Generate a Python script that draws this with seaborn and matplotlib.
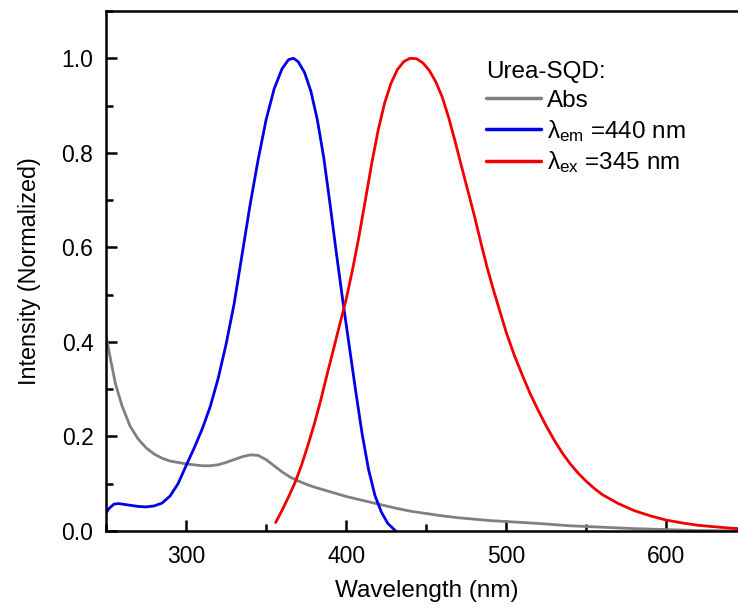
import numpy as np
import pandas as pd
import matplotlib
matplotlib.use("Agg")
import matplotlib.pyplot as plt
from matplotlib.ticker import MultipleLocator, FormatStrFormatter
import seaborn as sns

# ---- data ----
abs_wl = [250, 253, 256, 260, 265, 270, 275, 280, 285, 290, 295, 300, 305, 310, 315, 320,
          325, 330, 335, 340, 345, 350, 355, 360, 365, 370, 375, 380, 390, 400, 410, 420,
          430, 440, 450, 460, 470, 480, 490, 500, 520, 540, 560, 580, 600, 620, 651]
abs_val = [0.414, 0.36, 0.31, 0.265, 0.222, 0.195, 0.176, 0.163, 0.154, 0.148, 0.145,
           0.142, 0.14, 0.138, 0.138, 0.14, 0.145, 0.151, 0.157, 0.161, 0.16, 0.151, 0.138,
           0.125, 0.114, 0.106, 0.099, 0.093, 0.083, 0.073, 0.065, 0.057, 0.049, 0.042,
           0.037, 0.032, 0.028, 0.025, 0.022, 0.02, 0.016, 0.011, 0.008, 0.005, 0.003,
           0.001, 0.0]

em_wl = [250, 252, 255, 258, 262, 266, 270, 275, 280, 285, 290, 295, 300, 305, 310, 315,
         320, 325, 330, 335, 340, 345, 350, 355, 360, 364, 367, 370, 374, 378, 382, 386,
         390, 394, 398, 402, 406, 410, 414, 418, 422, 426, 431]
em_val = [0.038, 0.048, 0.057, 0.058, 0.056, 0.054, 0.052, 0.051, 0.053, 0.059, 0.074,
          0.1, 0.138, 0.175, 0.215, 0.262, 0.322, 0.395, 0.48, 0.585, 0.69, 0.785, 0.87,
          0.935, 0.978, 0.997, 1.0, 0.993, 0.97, 0.93, 0.87, 0.79, 0.69, 0.585, 0.485,
          0.39, 0.295, 0.205, 0.13, 0.075, 0.04, 0.016, 0.0]

ex_wl = [356, 360, 364, 368, 372, 376, 380, 384, 388, 392, 396, 400, 404, 408, 412, 416,
         420, 424, 428, 432, 436, 440, 444, 448, 452, 456, 460, 464, 468, 472, 476, 480,
         484, 488, 492, 496, 500, 505, 510, 515, 520, 525, 530, 535, 540, 545, 550, 555,
         560, 570, 580, 590, 600, 610, 620, 630, 640, 651]
ex_val = [0.018, 0.044, 0.072, 0.102, 0.138, 0.18, 0.225, 0.275, 0.33, 0.383, 0.437, 0.49,
          0.553, 0.623, 0.7, 0.778, 0.848, 0.905, 0.947, 0.976, 0.993, 1.0, 0.999, 0.99,
          0.974, 0.95, 0.918, 0.875, 0.825, 0.772, 0.72, 0.668, 0.612, 0.558, 0.51, 0.465,
          0.42, 0.372, 0.33, 0.29, 0.255, 0.222, 0.192, 0.165, 0.142, 0.122, 0.105, 0.09,
          0.077, 0.058, 0.043, 0.032, 0.023, 0.017, 0.012, 0.009, 0.006, 0.004]

legend_title = "Urea-SQD:"
labels = ["Abs", "λ$_{\\mathrm{em}}$ =440 nm", "λ$_{\\mathrm{ex}}$ =345 nm"]
colors = ["#808080", "#0000e6", "#f00000"]

sns.set_style("ticks")
plt.rcParams["font.family"] = ["Liberation Sans", "DejaVu Sans"]
plt.rcParams["mathtext.fontset"] = "custom"
plt.rcParams["mathtext.rm"] = "Liberation Sans"
plt.rcParams["mathtext.it"] = "Liberation Sans:italic"
plt.rcParams["text.color"] = "black"
plt.rcParams["axes.labelcolor"] = "black"
plt.rcParams["xtick.color"] = "black"
plt.rcParams["ytick.color"] = "black"

fig = plt.figure(figsize=(7.38, 6.10), dpi=100)
ax = fig.add_axes([106 / 738, 79 / 610, 642 / 738, 520 / 610])

for wl, val, lab, c in zip([abs_wl, em_wl, ex_wl], [abs_val, em_val, ex_val], labels, colors):
    df = pd.DataFrame({"wl": wl, "v": val})
    sns.lineplot(data=df, x="wl", y="v", ax=ax, color=c, lw=2.0, label=lab)

ax.set_xlim(250, 651)
ax.set_ylim(0, 1.1)
ax.xaxis.set_major_locator(MultipleLocator(100))
ax.xaxis.set_minor_locator(MultipleLocator(50))
ax.yaxis.set_major_locator(MultipleLocator(0.2))
ax.yaxis.set_minor_locator(MultipleLocator(0.1))
ax.yaxis.set_major_formatter(FormatStrFormatter("%.1f"))
ax.tick_params(which="both", direction="in", width=1.8, colors="black", labelsize=16.5,
               top=False, right=False)
ax.tick_params(which="major", length=8)
ax.tick_params(axis="x", which="major", pad=10)
ax.tick_params(axis="y", which="major", pad=9)
ax.tick_params(which="minor", length=5)
for s in ["left", "bottom", "top"]:
    ax.spines[s].set_linewidth(1.8)
    ax.spines[s].set_color("black")
ax.spines["right"].set_visible(False)

ax.set_xlabel("Wavelength (nm)", fontsize=17.5, labelpad=9, color="black")
ax.set_ylabel("Intensity (Normalized)", fontsize=16.8, labelpad=15, color="black")

leg = ax.legend(title=legend_title, loc="upper left", bbox_to_anchor=(0.592, 0.903),
                frameon=False, fontsize=17.5, title_fontsize=17.5, handlelength=2.25,
                handletextpad=0.25, labelspacing=0.25, borderaxespad=0, borderpad=0,
                alignment="left")
for line in leg.get_lines():
    line.set_linewidth(2.5)
for t in leg.get_texts():
    t.set_color("black")
leg.get_title().set_color("black")

fig.savefig("out.png", dpi=100)
